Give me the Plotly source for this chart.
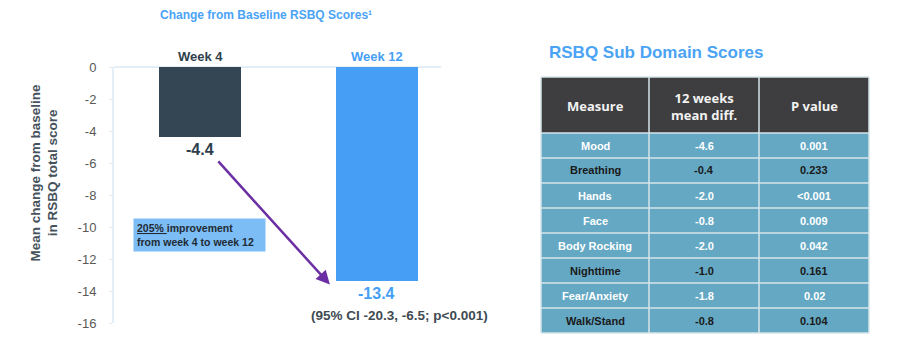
import plotly.graph_objects as go

# Bar chart data
weeks = ["Week 4", "Week 12"]
change = [-4.4, -13.4]
bar_colors = ["#344553", "#479ff5"]
label_colors = ["#2f3f4c", "#479ff5"]
ci_text = "(95% CI -20.3, -6.5; p<0.001)"
improvement_pct = "205%"
y_ticks = list(range(-16, 1, 2))

# Sub-domain table data
table_header = ["Measure", "12 weeks<br>mean diff.", "P value"]
measures = ["Mood", "Breathing", "Hands", "Face", "Body Rocking",
            "Nighttime", "Fear/Anxiety", "Walk/Stand"]
mean_diff = ["-4.6", "-0.4", "-2.0", "-0.8", "-2.0", "-1.0", "-1.8", "-0.8"]
p_values = ["0.001", "0.233", "<0.001", "0.009", "0.042", "0.161", "0.02", "0.104"]
dark_rows = {"Breathing", "Nighttime", "Walk/Stand"}

W, H = 902, 350
FONT = "Liberation Sans, Arial, sans-serif"
BLUE = "#4aa3f5"
GRAY = "#595959"


def px_x(v):
    return v / W


def px_y(v):
    return 1 - v / H


fig = go.Figure()

fig.add_trace(go.Bar(
    x=[0, 1], y=change,
    marker=dict(color=bar_colors, line=dict(width=0)),
    width=0.463,
    hoverinfo="skip",
    showlegend=False,
))

annotations = []
shapes = []

# Chart title
annotations.append(dict(
    x=px_x(266), y=px_y(15), xref="paper", yref="paper",
    xanchor="center", yanchor="middle",
    text="<b>Change from Baseline RSBQ Scores¹</b>", showarrow=False,
    font=dict(family=FONT, size=12, color=BLUE),
))

# Category labels above bars
for i, (w, c) in enumerate(zip(weeks, label_colors)):
    annotations.append(dict(
        x=i, y=0, xref="x", yref="y", yshift=10,
        xanchor="center", yanchor="middle",
        text=f"<b>{w}</b>", showarrow=False,
        font=dict(family=FONT, size=13, color=c),
    ))

# Value labels below bars
for i, (v, c) in enumerate(zip(change, label_colors)):
    annotations.append(dict(
        x=i, y=v, xref="x", yref="y", yshift=-12,
        xanchor="center", yanchor="middle",
        text=f"<b>{v:.1f}</b>", showarrow=False,
        font=dict(family=FONT, size=16, color=c),
    ))

annotations.append(dict(
    x=1.13, y=change[1], xref="x", yref="y", yshift=-34,
    xanchor="center", yanchor="middle",
    text=f"<b>{ci_text}</b>", showarrow=False,
    font=dict(family=FONT, size=13.5, color="#404a52"),
))

# Y axis title
annotations.append(dict(
    x=px_x(44.5), y=px_y(173), xref="paper", yref="paper",
    xanchor="center", yanchor="middle",
    text="<b>Mean change from baseline<br>in RSBQ total score</b>",
    showarrow=False, textangle=-90,
    font=dict(family=FONT, size=13.5, color="#46525c"),
))

# Improvement arrow
annotations.append(dict(
    x=0.734, y=-13.6, xref="x", yref="y",
    ax=0.096, ay=-5.81, axref="x", ayref="y",
    text="", showarrow=True,
    arrowhead=2, arrowsize=1.1, arrowwidth=2.5, arrowcolor="#6b2fa3",
))

# Improvement callout box
annotations.append(dict(
    x=px_x(133), y=px_y(218), xref="paper", yref="paper",
    xanchor="left", yanchor="top", align="left",
    text=f"<b><u>{improvement_pct} </u>improvement<br>from week 4 to week 12</b>",
    showarrow=False, bgcolor="#7cbdf6", borderpad=3, width=125,
    font=dict(family=FONT, size=10.5, color="#222b33"),
))

# Table title
annotations.append(dict(
    x=px_x(547), y=px_y(52), xref="paper", yref="paper",
    xanchor="left", yanchor="middle",
    text="<b>RSBQ Sub Domain Scores</b>", showarrow=False,
    font=dict(family=FONT, size=17, color=BLUE),
))

# Sub-domain table drawn as shapes and text
col_edges = [541, 649, 759, 869]
header_top, header_bottom = 77, 133
table_bottom = 333
row_h = (table_bottom - header_bottom) / len(measures)
grid_color = "#d6e4ea"


def rect(x0, y0, x1, y1, fill):
    return dict(type="rect", xref="paper", yref="paper",
                x0=px_x(x0), x1=px_x(x1), y0=px_y(y1), y1=px_y(y0),
                fillcolor=fill, line=dict(width=0), layer="below")


shapes.append(rect(col_edges[0], header_top, col_edges[-1], header_bottom, "#3e3e40"))
shapes.append(rect(col_edges[0], header_bottom, col_edges[-1], table_bottom, "#64a8c4"))

# grid lines
for xe in col_edges:
    shapes.append(dict(type="line", xref="paper", yref="paper",
                       x0=px_x(xe), x1=px_x(xe), y0=px_y(table_bottom), y1=px_y(header_top),
                       line=dict(color=grid_color, width=1.5)))
row_edges = [header_top, header_bottom] + [header_bottom + row_h * (k + 1) for k in range(len(measures))]
for ye in row_edges:
    shapes.append(dict(type="line", xref="paper", yref="paper",
                       x0=px_x(col_edges[0]), x1=px_x(col_edges[-1]), y0=px_y(ye), y1=px_y(ye),
                       line=dict(color=grid_color, width=1.5)))

col_centers = [(col_edges[k] + col_edges[k + 1]) / 2 for k in range(3)]
for cx, label in zip(col_centers, table_header):
    annotations.append(dict(
        x=px_x(cx), y=px_y((header_top + header_bottom) / 2 + 1), xref="paper", yref="paper",
        xanchor="center", yanchor="middle", align="center",
        text=f"<b>{label}</b>", showarrow=False,
        font=dict(family="Open Sans, sans-serif", size=13, color="#f2f2f2"),
    ))

for r, (m, d, p) in enumerate(zip(measures, mean_diff, p_values)):
    cy = header_bottom + row_h * (r + 0.5)
    color = "#1a1a1a" if m in dark_rows else "#ffffff"
    for cx, val in zip(col_centers, (m, d, p)):
        annotations.append(dict(
            x=px_x(cx), y=px_y(cy), xref="paper", yref="paper",
            xanchor="center", yanchor="middle",
            text=f"<b>{val}</b>", showarrow=False,
            font=dict(family=FONT, size=11, color=color),
        ))

fig.update_layout(
    width=W, height=H,
    margin=dict(l=0, r=0, t=0, b=0, autoexpand=False),
    paper_bgcolor="#ffffff", plot_bgcolor="#ffffff",
    annotations=annotations,
    shapes=shapes,
    xaxis=dict(
        domain=[px_x(114), px_x(441)],
        range=[-0.486, 1.362],
        showticklabels=False, showgrid=False, zeroline=False,
        showline=False, fixedrange=True, automargin=False,
    ),
    yaxis=dict(
        domain=[px_y(323), px_y(67)],
        range=[-16, 0],
        tickvals=y_ticks,
        ticktext=[str(t) for t in y_ticks],
        ticks="outside", ticklen=3, tickcolor="#e4eef6",
        tickfont=dict(family=FONT, size=13, color=GRAY),
        ticklabelstandoff=10,
        showgrid=False,
        zeroline=True, zerolinecolor="#e4eef6", zerolinewidth=2,
        showline=True, linecolor="#e4eef6", linewidth=2,
        fixedrange=True, automargin=False,
    ),
    bargap=0,
)

fig.write_html("out.html")
